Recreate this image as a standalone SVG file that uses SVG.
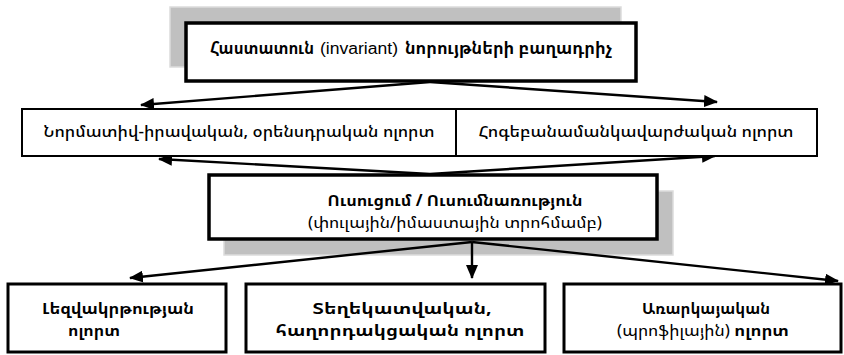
<svg xmlns="http://www.w3.org/2000/svg" width="844" height="355" viewBox="0 0 844 355">
<style>
.shadow{fill:#c0c0c0;stroke:#dcdcdc;stroke-width:1.5}
.box{fill:#fff;stroke:#000}
.t{font-family:"Noto Sans Armenian","DejaVu Sans Condensed","DejaVu Sans",sans-serif;text-anchor:middle;fill:#000}
.st{text-anchor:start}
.lat{font-family:"Liberation Sans",Arial,sans-serif;font-weight:normal;font-size:16px}
.b{font-weight:bold}
.n{font-weight:normal}
.m{font-weight:500}
.s17{font-size:17px}
.s16{font-size:16px}
.conn line{stroke:#000;stroke-width:2.4}
</style>
<defs>
<marker id="ah" markerWidth="14" markerHeight="12" refX="13" refY="6" orient="auto" markerUnits="userSpaceOnUse">
<path d="M0,0 L14,6 L0,12 z" fill="#000"/>
</marker>
</defs>
<g id="shadow-top"><rect class="shadow" x="170" y="7" width="451" height="60"/></g>
<g id="shadow-mid"><rect class="shadow" x="224" y="191" width="449" height="64"/></g>
<g class="conn" id="connectors">
<line x1="430" y1="82" x2="141" y2="105" marker-end="url(#ah)"/>
<line x1="430" y1="82" x2="717" y2="102" marker-end="url(#ah)"/>
<line x1="430" y1="174" x2="159" y2="159" marker-end="url(#ah)"/>
<line x1="430" y1="174" x2="715" y2="156" marker-end="url(#ah)"/>
<line x1="472" y1="242" x2="130" y2="278" marker-end="url(#ah)"/>
<line x1="472" y1="242" x2="472" y2="278" marker-end="url(#ah)"/>
<line x1="472" y1="242" x2="838" y2="281" marker-end="url(#ah)"/>
</g>
<g id="node-top">
<rect class="box" x="186" y="23" width="450" height="58" stroke-width="3.5"/>
<text class="t st s17 b" x="210" y="54" textLength="104" lengthAdjust="spacingAndGlyphs">Հաստատուն</text>
<text class="t st lat" x="320" y="54" textLength="78" lengthAdjust="spacingAndGlyphs">(invariant)</text>
<text class="t st s17 b" x="405" y="54" textLength="207" lengthAdjust="spacingAndGlyphs">նորույթների բաղադրիչ</text>
</g>
<g id="node-norm">
<rect class="box" x="22" y="109" width="434" height="47" stroke-width="2"/>
<text class="t s16 m" x="239" y="137" textLength="391" lengthAdjust="spacingAndGlyphs">Նորմատիվ-իրավական, օրենսդրական ոլորտ</text>
</g>
<g id="node-psych">
<rect class="box" x="456" y="109" width="361" height="47" stroke-width="2"/>
<text class="t s16 m" x="636" y="137" textLength="315" lengthAdjust="spacingAndGlyphs">Հոգեբանամանկավարժական ոլորտ</text>
</g>
<g id="node-learn">
<rect class="box" x="209" y="175" width="448" height="64" stroke-width="3.5"/>
<text class="t s16 b" x="455" y="206" textLength="255" lengthAdjust="spacingAndGlyphs">Ուսուցում / Ուսումնառություն</text>
<text class="t s16 n" x="455" y="228" textLength="294" lengthAdjust="spacingAndGlyphs">(փուլային/իմաստային տրոհմամբ)</text>
</g>
<g id="node-lang">
<rect class="box" x="8" y="284" width="218" height="68" stroke-width="3"/>
<text class="t s16 b" x="118" y="314" textLength="152" lengthAdjust="spacingAndGlyphs">Լեզվակրթության</text>
<text class="t s16 b" x="94" y="336" textLength="52" lengthAdjust="spacingAndGlyphs">ոլորտ</text>
</g>
<g id="node-info">
<rect class="box" x="246" y="284" width="299" height="68" stroke-width="3"/>
<text class="t s16 b" x="402" y="314" textLength="179" lengthAdjust="spacingAndGlyphs">Տեղեկատվական,</text>
<text class="t s16 b" x="400" y="336" textLength="249" lengthAdjust="spacingAndGlyphs">հաղորդակցական ոլորտ</text>
</g>
<g id="node-subj">
<rect class="box" x="564" y="284" width="277" height="68" stroke-width="3"/>
<text class="t s16 b" x="706" y="314" textLength="128" lengthAdjust="spacingAndGlyphs">Առարկայական</text>
<text class="t s16" x="703" y="336" textLength="172" lengthAdjust="spacingAndGlyphs"><tspan class="n">(պրոֆիլային)</tspan> <tspan class="b">ոլորտ</tspan></text>
</g>
</svg>
